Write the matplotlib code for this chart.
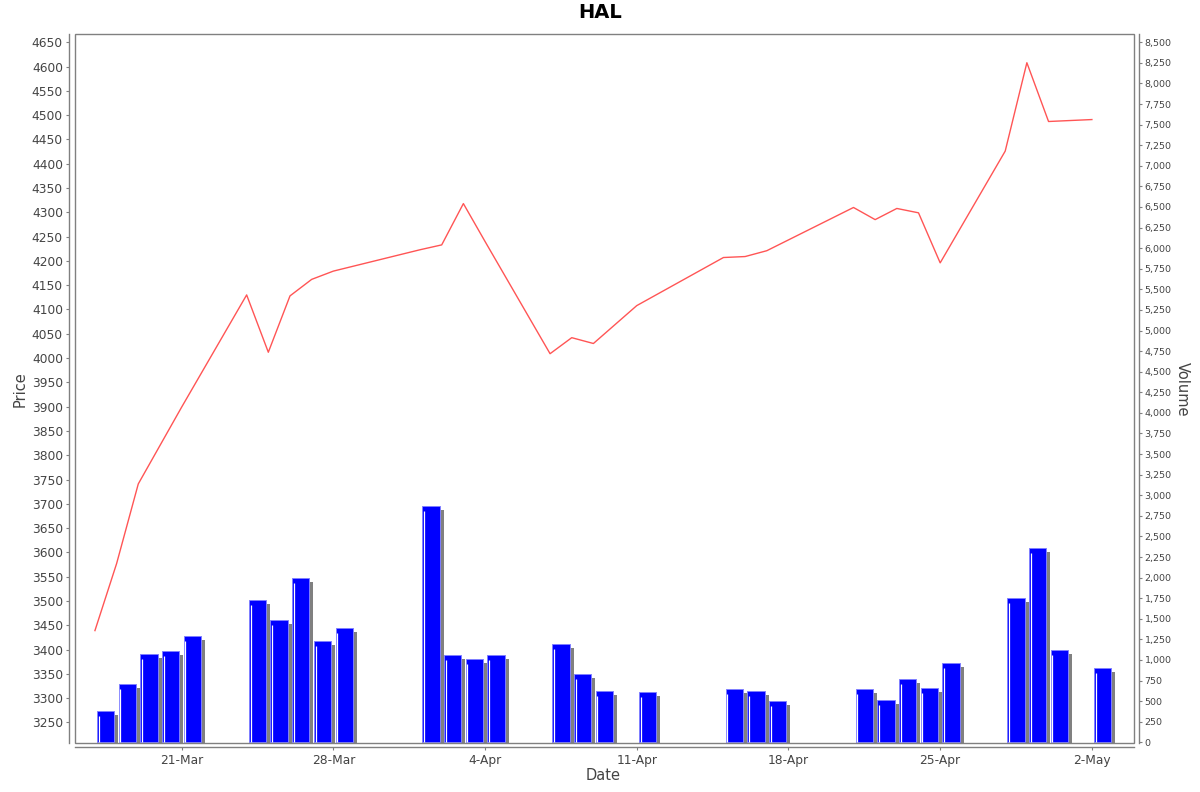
import numpy as np
import pandas as pd
import matplotlib
matplotlib.use("Agg")
import matplotlib.pyplot as plt
import matplotlib.dates as mdates
import matplotlib.transforms as mtransforms
from matplotlib.patches import Rectangle
from matplotlib.ticker import MultipleLocator, FuncFormatter

# trading days (HAL, 2025)
dates = ["2025-03-17", "2025-03-18", "2025-03-19", "2025-03-20", "2025-03-21",
         "2025-03-24", "2025-03-25", "2025-03-26", "2025-03-27", "2025-03-28",
         "2025-04-01", "2025-04-02", "2025-04-03", "2025-04-04",
         "2025-04-07", "2025-04-08", "2025-04-09", "2025-04-11",
         "2025-04-15", "2025-04-16", "2025-04-17",
         "2025-04-21", "2025-04-22", "2025-04-23", "2025-04-24", "2025-04-25",
         "2025-04-28", "2025-04-29", "2025-04-30", "2025-05-02"]

price = [3439, 3577, 3741, 3820, 3899,
         4130, 4012, 4128, 4162, 4179,
         4223, 4233, 4318, 4240,
         4009, 4042, 4030, 4108,
         4207, 4209, 4221,
         4310, 4285, 4308, 4299, 4196,
         4426, 4608, 4487, 4491]

volume = [380, 708, 1068, 1108, 1287,
          1727, 1481, 1994, 1230, 1387,
          2865, 1056, 1008, 1060,
          1190, 829, 626, 614,
          651, 619, 505,
          643, 517, 768, 663, 959,
          1752, 2362, 1124, 902]

xtick_dates = ["2025-03-21", "2025-03-28", "2025-04-04", "2025-04-11",
               "2025-04-18", "2025-04-25", "2025-05-02"]
xtick_labels = ["21-Mar", "28-Mar", "4-Apr", "11-Apr", "18-Apr", "25-Apr", "2-May"]

grey = "#808080"
txt = "#444444"

d = mdates.date2num(pd.to_datetime(dates))
xt = mdates.date2num(pd.to_datetime(xtick_dates))

fig = plt.figure(figsize=(12, 7.92), dpi=100)
ax = fig.add_axes([75 / 1200, 1 - 743.3 / 792, 1058.5 / 1200, 709 / 792])
ax2 = ax.twinx()

# price line
ax.plot(d, price, color="#ff5555", lw=1.0, zorder=3)

# volume bars: shadow, bar, white highlight
shadow_tr = ax2.transData + mtransforms.ScaledTranslation(4 / 100, -4 / 100, fig.dpi_scale_trans)
ax2.bar(d + 0.1, volume, width=0.8, align="edge", color=grey, lw=0,
        transform=shadow_tr, zorder=1)
ax2.bar(d + 0.1, volume, width=0.8, align="edge", color="#0000ff",
        edgecolor="#8080ff", lw=0.7, zorder=2)
hl_tr = ax2.transData + mtransforms.ScaledTranslation(1.7 / 100, 0, fig.dpi_scale_trans)
ax2.vlines(d + 0.1, 0, np.array(volume) - 60, colors="white", lw=0.9,
           transform=hl_tr, zorder=2.5)

# plot outline
ax2.add_patch(Rectangle((0, 0), 1, 1, transform=ax.transAxes, fill=False,
                        edgecolor=grey, lw=1, clip_on=False, zorder=5))

ax.set_xlim(xt[0] - 4.92, xt[-1] + 1.92)
ax.set_ylim(3207, 4666.5)
ax2.set_ylim(-12, 8597)

ax.yaxis.set_major_locator(MultipleLocator(50))
ax2.yaxis.set_major_locator(MultipleLocator(250))
ax2.yaxis.set_major_formatter(FuncFormatter(lambda v, p: f"{v:,.0f}"))
ax.set_xticks(xt)
ax.set_xticklabels(xtick_labels)

for s in ["top", "right"]:
    ax.spines[s].set_visible(False)
for s in ["top", "left", "bottom"]:
    ax2.spines[s].set_visible(False)
ax.spines["left"].set_position(("outward", 4))
ax.spines["bottom"].set_position(("outward", 3))
ax2.spines["right"].set_position(("outward", 4))
for sp in [ax.spines["left"], ax.spines["bottom"], ax2.spines["right"]]:
    sp.set_color(grey)
    sp.set_linewidth(1)

ax.tick_params(axis="y", length=2.2, width=0.8, color=grey, labelcolor=txt,
               labelsize=8.8, pad=2.5)
ax.tick_params(axis="x", length=2.5, width=0.8, color=grey, labelcolor=txt,
               labelsize=8.8, pad=2)
ax2.tick_params(axis="y", length=2, width=0.8, color=grey, labelcolor=txt,
                labelsize=6.8, pad=2)

ax.set_ylabel("Price", fontsize=10.5, color=txt, va="center")
ax.yaxis.set_label_coords(-0.052, 0.5)
ax2.set_ylabel("Volume", fontsize=10.5, color=txt, rotation=-90, va="center")
ax2.yaxis.set_label_coords(1.0458, 0.5)
ax.set_xlabel("Date", fontsize=10.5, color=txt, va="center")
ax.xaxis.set_label_coords(0.4988, -0.046)

fig.text(0.5, 1 - 13 / 792, "HAL", ha="center", va="center",
         fontsize=14, fontweight="bold")

fig.savefig("out.png", dpi=100)
